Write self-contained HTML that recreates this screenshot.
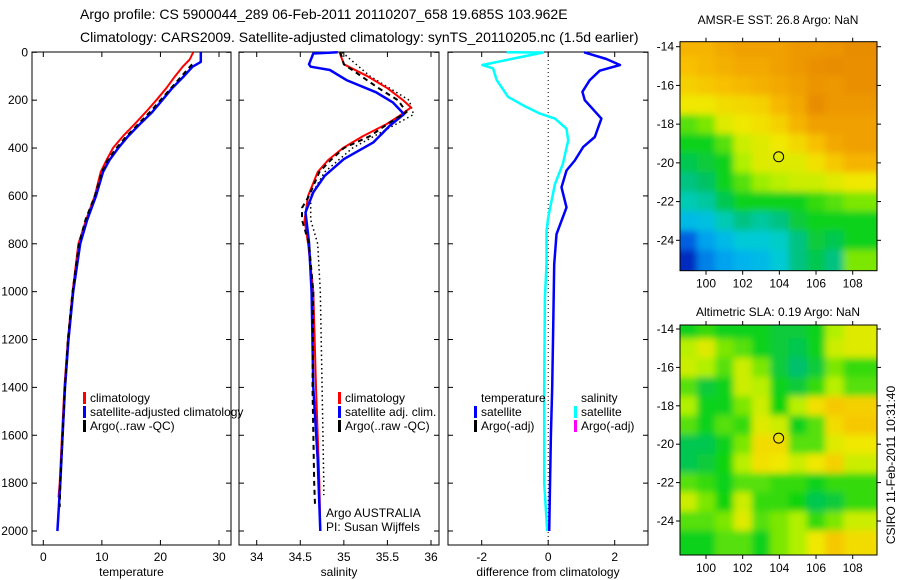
<!DOCTYPE html>
<html><head><meta charset="utf-8">
<style>
html,body{margin:0;padding:0;background:#fff;}
svg{display:block;font-family:"Liberation Sans",sans-serif;}
text{fill:#000;}
</style></head>
<body>
<svg id="chart" width="900" height="580" viewBox="0 0 900 580" xmlns="http://www.w3.org/2000/svg">
<text x="80" y="19" font-size="14">Argo profile: CS 5900044_289 06-Feb-2011 20110207_658 19.685S 103.962E</text>
<text x="80" y="42" font-size="14">Climatology: CARS2009. Satellite-adjusted climatology: synTS_20110205.nc (1.5d earlier)</text>
<text x="778" y="24" font-size="12" text-anchor="middle">AMSR-E SST: 26.8 Argo: NaN</text>
<text x="778" y="316" font-size="12" text-anchor="middle">Altimetric SLA: 0.19 Argo: NaN</text>
<text x="0" y="0" font-size="12" text-anchor="middle" transform="translate(895,465) rotate(-90)">CSIRO 11-Feb-2011 10:31:40</text>
<g id="plots"></g>
</svg>
<script>
// ---------- data ----------
const tempClimDepth=[0,30,60,100,150,200,250,300,350,400,450,500,600,700,800,900,1000,1200,1400,1600,1800,1860];
const tempClim=[25.6,25,23.8,22.5,21,19.3,17.5,15.6,13.6,11.9,10.8,9.8,8.8,7.3,6,5.5,5,4.2,3.6,3.2,2.8,2.6];
const tempSatDepth=[0,40,60,100,150,200,250,300,350,400,450,500,600,700,800,900,1000,1200,1400,1600,1800,2000];
const tempSat=[26.9,26.9,25.5,24,22,20.3,18.6,16.5,14.5,12.8,11.3,10.2,9,7.5,6.3,5.7,5.1,4.3,3.7,3.3,2.9,2.4];
const tempArgoDepth=[50,100,150,200,250,300,350,400,450,500,600,700,800,1000,1200,1400,1600,1800,1900];
const tempArgo=[25.4,23.6,21.8,20,18.2,16.2,14.2,12.5,11,10,8.8,7.2,6.1,5,4.2,3.7,3.3,2.9,2.8];
const salClimDepth=[0,50,100,150,200,230,270,300,350,400,450,500,600,700,800,1000,1400,1800,2000];
const salClim=[34.95,35.0,35.27,35.5,35.68,35.77,35.62,35.49,35.22,34.99,34.82,34.7,34.59,34.55,34.59,34.65,34.68,34.72,34.73];
const salSatDepth=[0,5,50,60,74,116,167,209,258,306,376,446,516,585,669,794,1003,1400,1700,2000];
const salSat=[34.93,34.65,34.6,34.62,34.84,35.03,35.37,35.56,35.69,35.53,35.34,35.0,34.78,34.65,34.56,34.6,34.63,34.65,34.7,34.73];
const salArgoDepth=[0,50,100,150,200,250,300,350,400,450,500,600,650,700,800,1000,1400,1800,1900];
const salArgo=[34.96,35.0,35.2,35.4,35.62,35.72,35.5,35.3,35.0,34.85,34.72,34.6,34.52,34.52,34.6,34.65,34.64,34.66,34.67];
const salRawDepth=[0,100,200,260,300,400,500,600,700,800,1000,1400,1800,1850];
const salRaw=[34.98,35.3,35.75,35.8,35.6,35.1,34.78,34.62,34.62,34.7,34.73,34.75,34.77,34.77];
const diffSalDepth=[0,1,53,67,116,186,221,256,277,319,368,467,551,690,746,886,1026,1400,1800,2000];
const diffSal=[-1.25,-0.16,-1.98,-1.66,-1.55,-1.21,-0.76,-0.25,0.2,0.55,0.6,0.44,0.2,0,-0.05,-0.05,-0.1,-0.12,-0.12,-0.03];
const diffTempDepth=[0,28,53,77,116,165,200,277,354,396,452,494,564,648,704,760,886,1151,1400,1600,2000];
const diffTemp=[1.08,1.75,2.16,1.55,1.25,1.03,1.1,1.6,1.4,1.05,0.8,0.55,0.4,0.55,0.4,0.25,0.18,0.15,0.12,0.08,0.03];
const depthTicks=[0,200,400,600,800,1000,1200,1400,1600,1800,2000];
const tempTicks=[0,10,20,30];
const salTicks=[34,34.5,35,35.5,36];
const diffTicks=[-2,0,2];
const mapLons=[99,100,101,102,103,104,105,106,107,108];
const mapLats=[-14,-15,-16,-17,-18,-19,-20,-21,-22,-23,-24,-25];
const lonTicks=[100,102,104,106,108];
const latTicks=[-14,-16,-18,-20,-22,-24];
const sstGrid=[
[.85,.85,.88,.9,.9,.9,.92,.92,.93,.95],
[.82,.84,.86,.88,.88,.9,.92,.94,.95,.94],
[.78,.8,.82,.84,.86,.88,.9,.93,.92,.94],
[.72,.72,.75,.76,.78,.84,.88,.95,.92,.92],
[.6,.62,.7,.72,.74,.78,.85,.9,.9,.9],
[.55,.55,.6,.68,.7,.72,.76,.82,.88,.9],
[.5,.52,.55,.65,.7,.7,.7,.74,.8,.85],
[.45,.48,.55,.6,.64,.66,.68,.68,.7,.72],
[.4,.42,.5,.55,.55,.55,.55,.58,.6,.62],
[.3,.32,.4,.45,.42,.45,.52,.55,.55,.55],
[.15,.25,.3,.35,.35,.38,.45,.52,.5,.55],
[.05,.2,.25,.28,.3,.35,.45,.5,.45,.62]];
const slaGrid=[
[.55,.58,.55,.55,.55,.52,.52,.55,.65,.7],
[.66,.7,.62,.6,.55,.52,.5,.55,.68,.7],
[.68,.65,.6,.68,.62,.52,.47,.52,.62,.58],
[.6,.52,.55,.68,.66,.55,.52,.58,.66,.6],
[.65,.55,.55,.62,.68,.56,.66,.74,.8,.78],
[.6,.55,.6,.58,.7,.68,.55,.6,.75,.8],
[.5,.5,.55,.62,.75,.75,.6,.6,.7,.72],
[.5,.52,.56,.66,.74,.72,.68,.72,.78,.68],
[.6,.58,.55,.6,.6,.58,.58,.55,.58,.58],
[.68,.62,.56,.68,.58,.58,.56,.5,.52,.58],
[.6,.6,.62,.7,.6,.62,.65,.58,.62,.68],
[.55,.55,.6,.6,.55,.62,.65,.72,.8,.75]];
const argoLon=[103.962];
const argoLat=[-19.685];

// ---------- helpers ----------
const NS='http://www.w3.org/2000/svg';
const root=document.getElementById('plots');
function mk(tag,attrs,parent){const e=document.createElementNS(NS,tag);for(const k in attrs)e.setAttribute(k,attrs[k]);(parent||root).appendChild(e);return e;}
function lin(d0,d1,r0,r1){return v=>r0+(v-d0)*(r1-r0)/(d1-d0);}
const yD=lin(0,2000,52.3,531);

function panel(name,x0,x1,xs,ticks,fmt,label,yLabels){
  const g=mk('g',{});
  
  
  const fr=mk('rect',{x:x0,y:52,width:x1-x0,height:493,fill:'none',stroke:'#000','stroke-width':1},g);
  
  
  ticks.forEach(t=>{const x=xs(t);
    mk('line',{x1:x,x2:x,y1:52,y2:57,stroke:'#000'},g);
    mk('line',{x1:x,x2:x,y1:545,y2:540,stroke:'#000'},g);
    const tl=mk('text',{x:x,y:561,'font-size':12,'text-anchor':'middle'},g);tl.textContent=fmt(t);
    
    
  });
  depthTicks.forEach(d=>{const y=yD(d);
    mk('line',{x1:x0,x2:x0+5,y1:y,y2:y,stroke:'#000'},g);
    mk('line',{x1:x1,x2:x1-5,y1:y,y2:y,stroke:'#000'},g);
    if(yLabels){const tl=mk('text',{x:x0-4,y:y+4,'font-size':12,'text-anchor':'end'},g);tl.textContent=d;
      
      }
  });
  const xl=mk('text',{x:(x0+x1)/2,y:576,'font-size':12,'text-anchor':'middle'},g);xl.textContent=label;
  
  
  return g;
}
function line(g,xs,vals,depths,color,w,dash,name){
  const d=vals.map((v,i)=>(i?'L':'M')+xs(v).toFixed(1)+','+yD(depths[i]).toFixed(1)).join('');
  const p=mk('path',{d:d,fill:'none',stroke:color,'stroke-width':w,'stroke-linejoin':'round'},g);
  if(dash)p.setAttribute('stroke-dasharray',dash);
  
  
}
function legend(g,x,y,items){
  items.forEach((it,i)=>{const yy=y+i*14;
    if(it[0]){const b=mk('rect',{x:x,y:yy-10,width:3,height:12,fill:it[0]},g);
      
      }
    const t=mk('text',{x:x+7,y:yy,'font-size':12},g);t.textContent=it[1];
    
    
  });
}

// Temperature panel
const xT=lin(0,30,43.3,219);
const gT=panel('temperature-panel',32,231,xT,tempTicks,v=>v,'temperature',true);
line(gT,xT,tempClim,tempClimDepth,'#f00',2,null,'temp-climatology-line');
line(gT,xT,tempSat,tempSatDepth,'#00f',2.5,null,'temp-satellite-line');
line(gT,xT,tempArgo,tempArgoDepth,'#000',2,'5,4','temp-argo-line');
legend(gT,83,402,[['#f00','climatology'],['#00f','satellite-adjusted climatology'],['#000','Argo(..raw -QC)']]);

// Salinity panel
const xS=lin(34,36,256.7,431);
const gS=panel('salinity-panel',239,439,xS,salTicks,v=>v,'salinity',false);
line(gS,xS,salRaw,salRawDepth,'#000',1.5,'1.5,3','sal-argo-raw-dotted');
line(gS,xS,salClim,salClimDepth,'#f00',2,null,'sal-climatology-line');
line(gS,xS,salSat,salSatDepth,'#00f',2.5,null,'sal-satellite-line');
line(gS,xS,salArgo,salArgoDepth,'#000',2,'5,4','sal-argo-line');
legend(gS,338,402,[['#f00','climatology'],['#00f','satellite adj. clim.'],['#000','Argo(..raw -QC)']]);
legend(gS,319,517,[[null,'Argo AUSTRALIA'],[null,'PI: Susan Wijffels']]);

// Difference panel
const xDf=lin(-2,2,481.7,614.7);
const gD=panel('difference-panel',448,648,xDf,diffTicks,v=>v,'difference from climatology',false);
mk('line',{x1:xDf(0),x2:xDf(0),y1:52,y2:545,stroke:'#000','stroke-dasharray':'1,3'},gD);
line(gD,xDf,diffSal,diffSalDepth,'#0ff',2.5,null,'diff-salinity-satellite-line');
line(gD,xDf,diffTemp,diffTempDepth,'#00f',2.5,null,'diff-temperature-satellite-line');
legend(gD,474,402,[[null,'temperature'],['#00f','satellite'],['#000','Argo(-adj)']]);
legend(gD,574,402,[[null,'salinity'],['#0ff','satellite'],['#f0f','Argo(-adj)']]);

// ---------- maps ----------
const stops=[[0,[0,16,176]],[.15,[0,96,224]],[.27,[0,176,240]],[.37,[0,208,208]],[.47,[0,192,110]],[.56,[16,212,16]],[.65,[176,240,0]],[.72,[240,232,0]],[.82,[248,192,0]],[.9,[240,160,0]],[1,[224,120,0]]];
function cmap(v){for(let i=1;i<stops.length;i++){if(v<=stops[i][0]){const a=stops[i-1],b=stops[i];const t=(v-a[0])/(b[0]-a[0]);return 'rgb('+a[1].map((c,k)=>Math.round(c+(b[1][k]-c)*t)).join(',')+')';}}return 'rgb(224,120,0)';}
const defs=mk('defs',{});
const flt=mk('filter',{id:'blur',x:'-10%',y:'-10%',width:'120%',height:'120%'},defs);
mk('feGaussianBlur',{stdDeviation:3.5},flt);

function map(name,grid,top,bottom,lat14,lat24,id){
  const L=680,R=877;
  const xs=lin(100,108,706,852.7), ys=lin(-14,-24,lat14,lat24);
  const g=mk('g',{});
  
  
  const cp=mk('clipPath',{id:'clip'+id},defs);
  mk('rect',{x:L,y:top,width:R-L,height:bottom-top},cp);
  const cg=mk('g',{'clip-path':'url(#clip'+id+')'},g);
  const bg=mk('g',{filter:'url(#blur)'},cg);
  const cw=xs(1)-xs(0), ch=ys(0)-ys(1);
  grid.forEach((row,r)=>row.forEach((v,c)=>{
    let x=xs(mapLons[c])-cw/2, y=ys(mapLats[r])-ch/2, w=cw+0.5, h=ch+0.5;
    if(c===0){x-=25;w+=25;} if(c===row.length-1){w+=25;}
    if(r===0){y-=25;h+=25;} if(r===grid.length-1){h+=25;}
    const cell=mk('rect',{x:x,y:y,width:w,height:h,fill:cmap(v)},bg);
    
    
  }));
  const fr=mk('rect',{x:L,y:top,width:R-L,height:bottom-top,fill:'none',stroke:'#000'},g);
  
  
  lonTicks.forEach(t=>{const x=xs(t);
    mk('line',{x1:x,x2:x,y1:top,y2:top-4,stroke:'#000'},g);
    mk('line',{x1:x,x2:x,y1:bottom,y2:bottom+4,stroke:'#000'},g);
    const tl=mk('text',{x:x,y:bottom+17,'font-size':12,'text-anchor':'middle'},g);tl.textContent=t;
    
    
  });
  latTicks.forEach(t=>{const y=ys(t);
    mk('line',{x1:L,x2:L-4,y1:y,y2:y,stroke:'#000'},g);
    mk('line',{x1:R,x2:R+4,y1:y,y2:y,stroke:'#000'},g);
    const tl=mk('text',{x:L-6,y:y+4,'font-size':12,'text-anchor':'end'},g);tl.textContent=t;
    
    
  });
  argoLon.forEach((lo,i)=>{const m=mk('circle',{cx:xs(lo),cy:ys(argoLat[i]),r:5,fill:'none',stroke:'#000'},g);
    
    });
}
map('sst-map',sstGrid,41.7,270.7,46.7,240.3,1);
map('sla-map',slaGrid,325,555,329,521,2);
</script>
</body></html>
